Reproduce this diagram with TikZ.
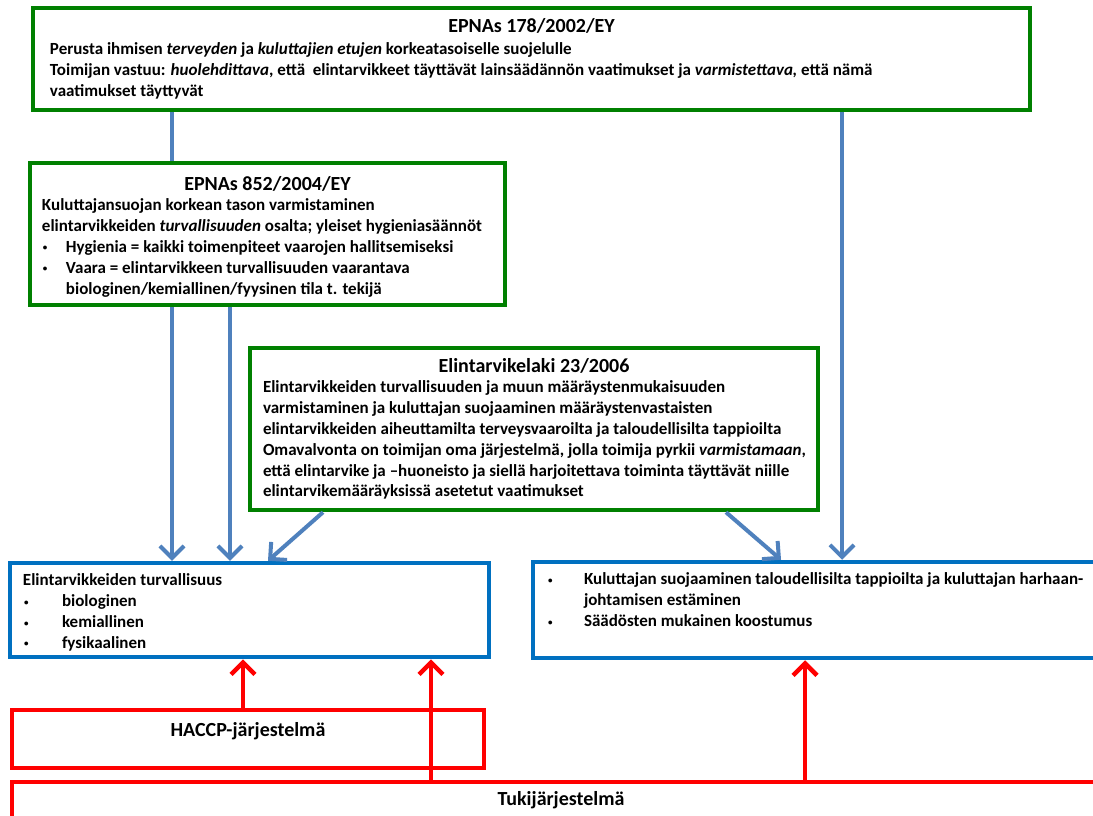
\documentclass[tikz,border=0pt]{standalone}
\usepackage{fontspec}
\setmainfont{Carlito}
\usepackage{tikz}
\usetikzlibrary{arrows.meta}

\definecolor{lawgreen}{RGB}{0,128,0}
\definecolor{boxblue}{RGB}{0,112,192}
\definecolor{arrowblue}{RGB}{79,129,189}
\definecolor{alarmred}{RGB}{255,0,0}

\newcommand{\bodyfont}{\bfseries\fontsize{17}{20.8}\selectfont}
\newcommand{\headfont}{\bfseries\fontsize{20}{22}\selectfont}
\newcommand{\dotitem}[1]{\makebox[#1][l]{\hspace{1pt}\raisebox{1.5pt}{\fontsize{9}{9}\selectfont\textbullet}}}

\tikzset{
  greenbox/.style={draw=lawgreen, line width=4.5pt, inner sep=0pt, font=\bodyfont},
  bluebox/.style={draw=boxblue, line width=4.5pt, inner sep=0pt, font=\bodyfont},
  redbox/.style={draw=alarmred, line width=4.5pt, inner sep=0pt, font=\headfont},
  bluelink/.style={draw=arrowblue, line width=4pt},
  bluearrow/.style={bluelink, -{Straight Barb[length=12pt,width=24pt]}},
  redarrow/.style={draw=alarmred, line width=4.5pt, -{Straight Barb[length=12pt,width=24pt]}}
}

\begin{document}
\begin{tikzpicture}[x=1pt,y=-1pt]

\clip (0,0) rectangle (1093,816);
\fill[white] (0,0) rectangle (1093,816);

% law boxes
\node[greenbox] (epnaA) at (531.5,59) {
\begin{minipage}[c][102pt][t]{997pt}
\vspace*{10pt}
{\centering\headfont EPNAs 178/2002/EY\par}
\vspace{2pt}
\raggedright\leftskip=17pt
Perusta ihmisen \textit{terveyden} ja \textit{kuluttajien etujen} korkeatasoiselle suojelulle\\
Toimijan vastuu: \textit{huolehdittava}, että \ elintarvikkeet täyttävät lainsäädännön vaatimukset ja \textit{varmistettava,} että nämä\\
vaatimukset täyttyvät
\end{minipage}
};

\node[greenbox] (epnaB) at (267.5,234) {
\begin{minipage}[c][142pt][t]{475pt}
\vspace*{13pt}
{\centering\headfont EPNAs 852/2004/EY\par}
\raggedright\leftskip=12pt
Kuluttajansuojan korkean tason varmistaminen\\
elintarvikkeiden \textit{turvallisuuden} osalta; yleiset hygieniasäännöt\\
\dotitem{24pt}Hygienia = kaikki toimenpiteet vaarojen hallitsemiseksi\\
\dotitem{24pt}Vaara = elintarvikkeen turvallisuuden vaarantava\\
\hspace*{24pt}biologinen/kemiallinen/fyysinen tila t. tekijä
\end{minipage}
};

\node[greenbox] (laki) at (534,429) {
\begin{minipage}[c][162pt][t]{568pt}
\vspace*{10pt}
{\centering\headfont Elintarvikelaki 23/2006\par}
\raggedright\leftskip=13pt
Elintarvikkeiden turvallisuuden ja muun määräystenmukaisuuden\\
varmistaminen ja kuluttajan suojaaminen määräystenvastaisten\\
elintarvikkeiden aiheuttamilta terveysvaaroilta ja taloudellisilta tappioilta\\
Omavalvonta on toimijan oma järjestelmä, jolla toimija pyrkii \textit{varmistamaan},\\
että elintarvike ja –huoneisto ja siellä harjoitettava toiminta täyttävät niille\\
elintarvikemääräyksissä asetetut vaatimukset
\end{minipage}
};

% target boxes
\node[bluebox] (turva) at (249.5,610) {
\begin{minipage}[c][94pt][t]{479pt}
\vspace*{11pt}
\raggedright\leftskip=13pt
Elintarvikkeiden turvallisuus\\
\dotitem{39pt}biologinen\\
\dotitem{39pt}kemiallinen\\
\dotitem{39pt}fysikaalinen
\end{minipage}
};

\node[bluebox] (kulu) at (821.5,610) {
\begin{minipage}[c][96pt][t]{577pt}
\vspace*{11pt}
\raggedright\leftskip=14pt
\dotitem{37pt}Kuluttajan suojaaminen taloudellisilta tappioilta ja kuluttajan harhaan-\\
\hspace*{37pt}johtamisen estäminen\\
\dotitem{37pt}Säädösten mukainen koostumus
\end{minipage}
};

% systems
\node[redbox] (haccp) at (248,739) {
\begin{minipage}[c][58pt][t]{472pt}
\vspace*{12pt}
\centering HACCP-järjestelmä
\end{minipage}
};

\node[redbox] (tuki) at (561,811) {
\begin{minipage}[c][58pt][t]{1098pt}
\vspace*{9pt}
\centering Tukijärjestelmä
\end{minipage}
};

% connectors
\draw[bluelink] (172,0 |- epnaA.south) -- (172,0 |- epnaB.north);
\draw[bluearrow] (172,0 |- epnaB.south) -- (172,0 |- turva.north);
\draw[bluearrow] (230,0 |- epnaB.south) -- (230,0 |- turva.north);
\draw[bluearrow] (323,0 |- laki.south) -- (268,0 |- turva.north);
\draw[bluearrow] (726,0 |- laki.south) -- (781,0 |- kulu.north);
\draw[bluearrow] (842,0 |- epnaA.south) -- (842,0 |- kulu.north);

\draw[redarrow] (243,0 |- haccp.north) -- (243,0 |- turva.south);
\draw[redarrow] (431,0 |- tuki.north) -- (431,0 |- turva.south);
\draw[redarrow] (805,0 |- tuki.north) -- (805,0 |- kulu.south);
\end{tikzpicture}
\end{document}
